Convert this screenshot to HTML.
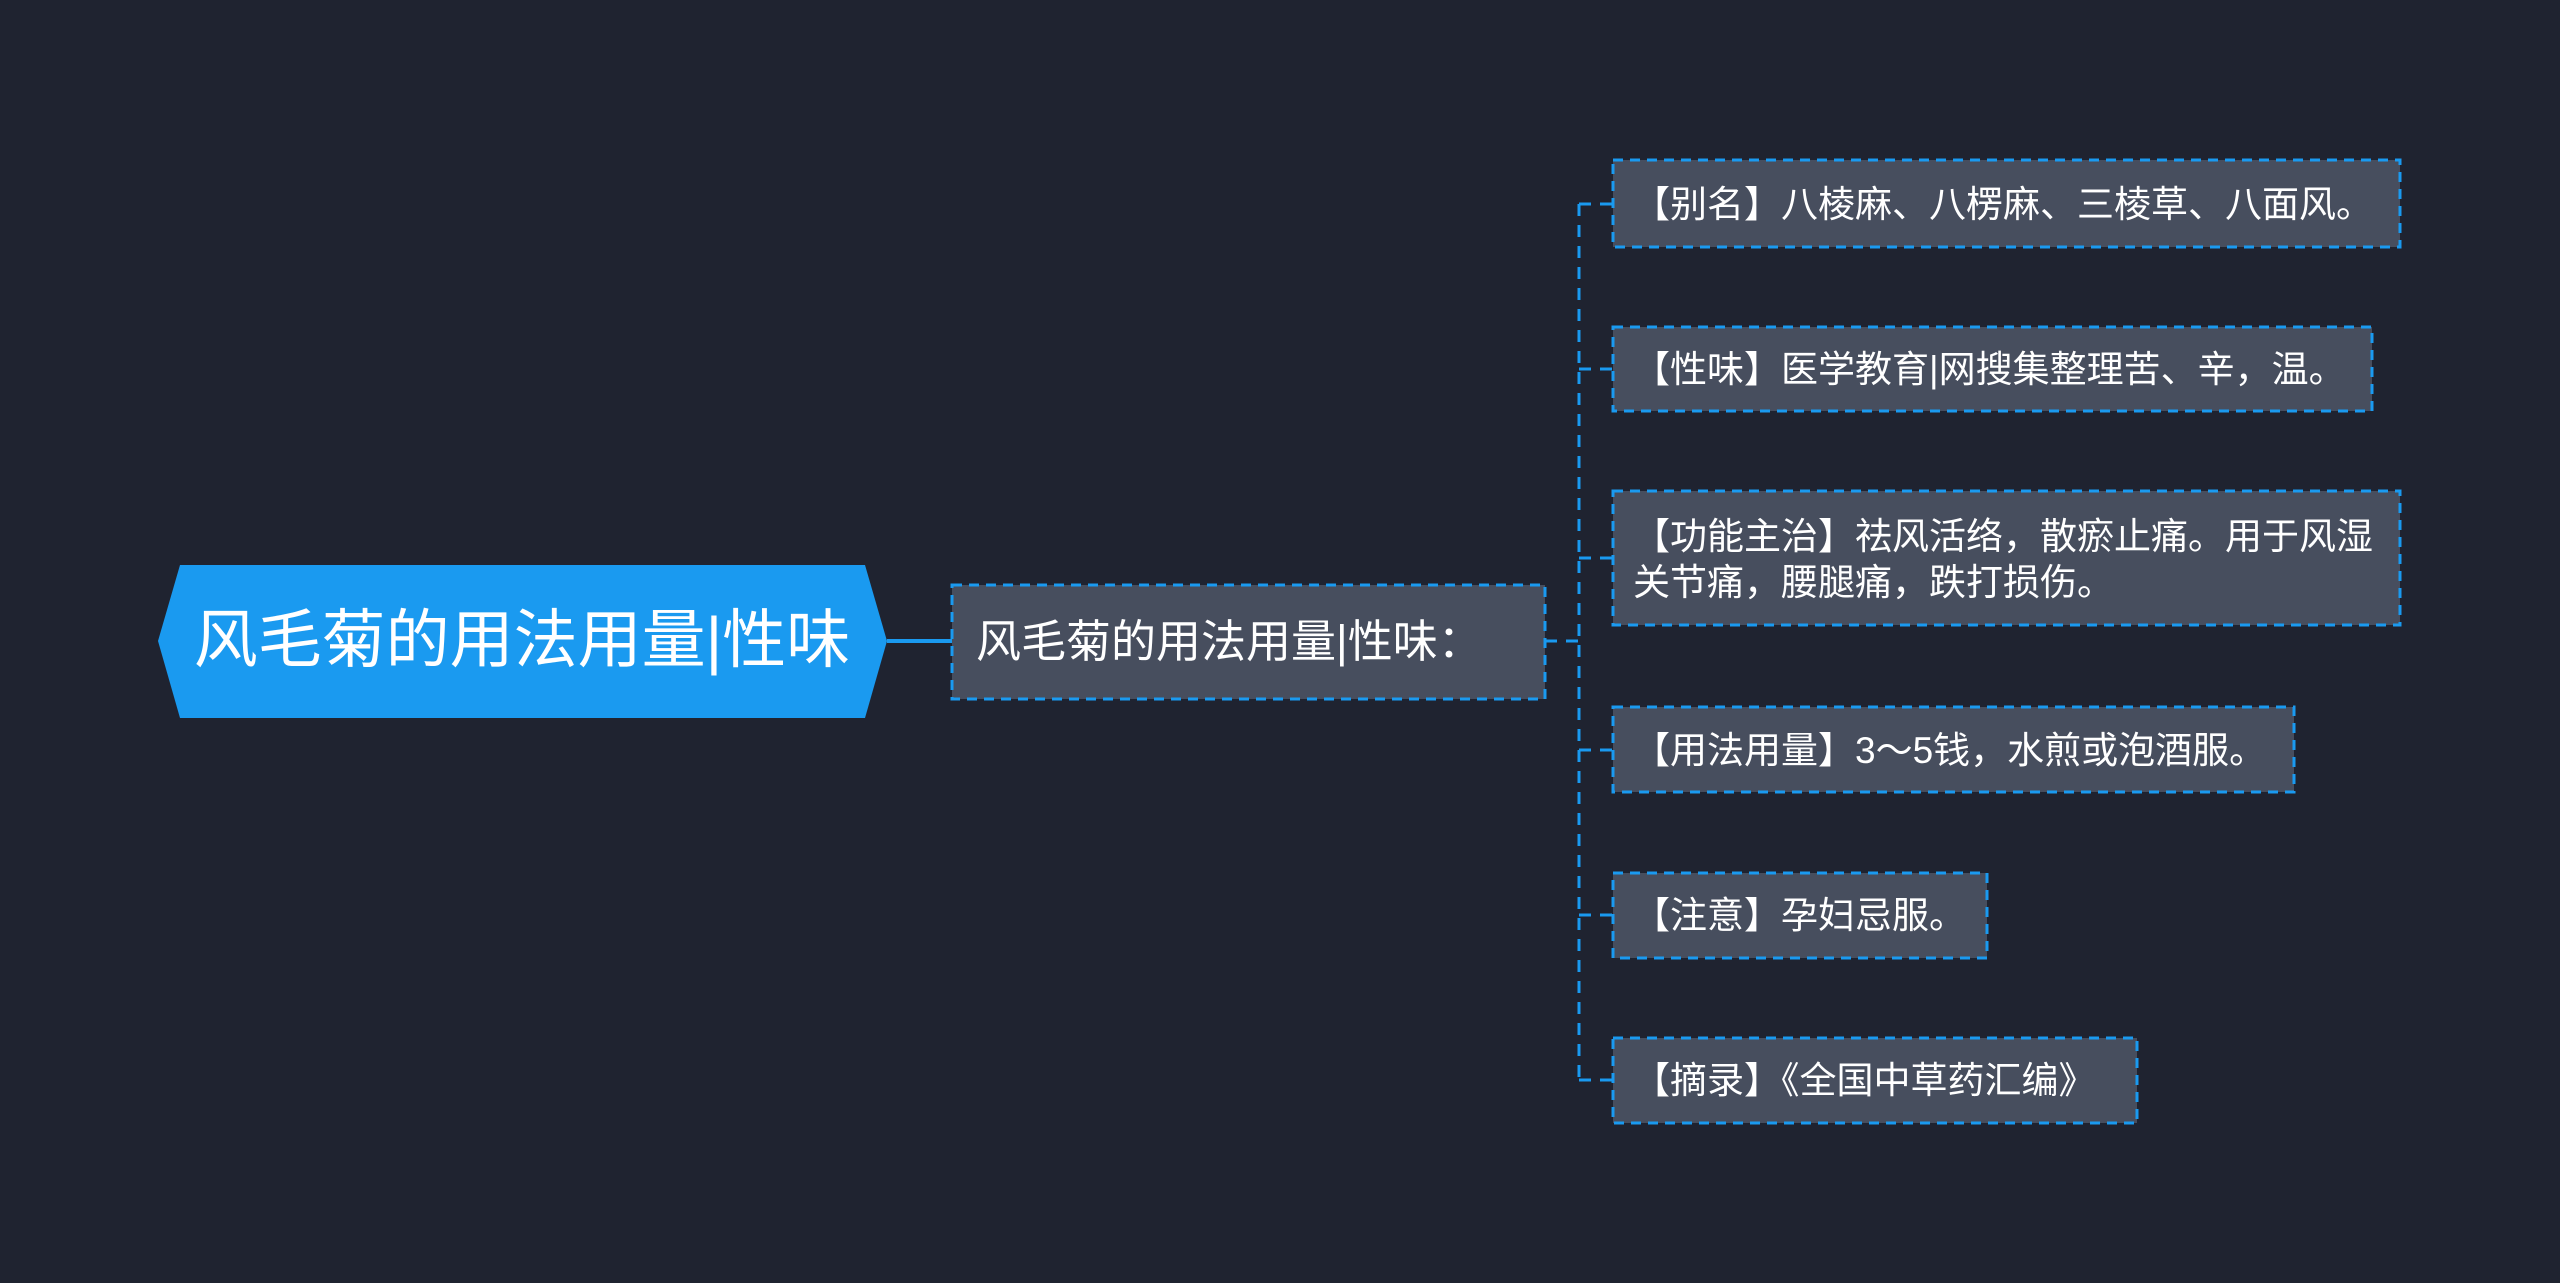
<!DOCTYPE html>
<html><head><meta charset="utf-8"><style>
html,body{margin:0;padding:0;background:#1f2330;}
svg{display:block}
text{font-family:"Liberation Sans","Noto Sans CJK SC",sans-serif;fill:#fff}
</style></head><body>
<svg width="2560" height="1283" viewBox="0 0 2560 1283" xmlns="http://www.w3.org/2000/svg">
<rect width="2560" height="1283" fill="#1f2330"/>
<!-- root -->
<polygon points="180,565 865,565 887,641 865,718 180,718 158,641" fill="#1a9af0"/>
<text x="522" y="662" font-size="64" text-anchor="middle">风毛菊的用法用量|性味</text>
<line x1="887" y1="641" x2="952" y2="641" stroke="#1a9af0" stroke-width="4"/>
<!-- mid -->
<rect x="952" y="585" width="593" height="114" fill="#474e5e" stroke="#1a9af0" stroke-width="3" stroke-dasharray="10,7"/>
<text x="976" y="657" font-size="45">风毛菊的用法用量|性味：</text>
<g stroke="#1a9af0" stroke-width="3" stroke-dasharray="12,9" fill="none">
<line x1="1545" y1="641" x2="1579" y2="641"/>
<line x1="1579" y1="204" x2="1579" y2="1080"/>
<line x1="1579" y1="204" x2="1613" y2="204"/>
<line x1="1579" y1="369" x2="1613" y2="369"/>
<line x1="1579" y1="558" x2="1613" y2="558"/>
<line x1="1579" y1="750" x2="1613" y2="750"/>
<line x1="1579" y1="915" x2="1613" y2="915"/>
<line x1="1579" y1="1080" x2="1613" y2="1080"/>
</g>
<g fill="#474e5e" stroke="#1a9af0" stroke-width="3" stroke-dasharray="10,7">
<rect x="1613" y="160" width="787" height="87"/>
<rect x="1613" y="327" width="759" height="84"/>
<rect x="1613" y="491" width="787" height="134"/>
<rect x="1613" y="707" width="681" height="85"/>
<rect x="1613" y="873" width="374" height="85"/>
<rect x="1613" y="1038" width="524" height="85"/>
</g>
<g font-size="37">
<text x="1633" y="217">【别名】八棱麻、八楞麻、三棱草、八面风。</text>
<text x="1633" y="382">【性味】医学教育|网搜集整理苦、辛，温。</text>
<text x="1633" y="549">【功能主治】祛风活络，散瘀止痛。用于风湿</text>
<text x="1633" y="595">关节痛，腰腿痛，跌打损伤。</text>
<text x="1633" y="763">【用法用量】3～5钱，水煎或泡酒服。</text>
<text x="1633" y="928">【注意】孕妇忌服。</text>
<text x="1633" y="1093">【摘录】《全国中草药汇编》</text>
</g>
</svg>
</body></html>
